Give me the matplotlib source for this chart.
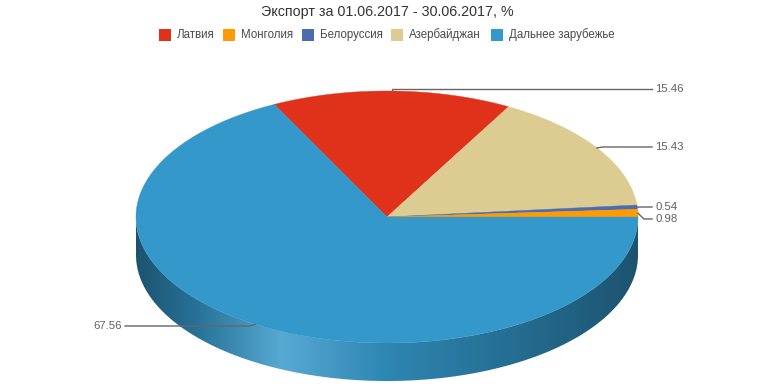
import numpy as np
import matplotlib
matplotlib.use('Agg')
import matplotlib.pyplot as plt
from matplotlib.patches import Polygon, Rectangle
from matplotlib.colors import LinearSegmentedColormap, to_rgb

plt.rcParams['font.family'] = ['Liberation Sans', 'DejaVu Sans']

title = 'Экспорт за 01.06.2017 - 30.06.2017, %'
legend_names = ['Латвия', 'Монголия', 'Белоруссия', 'Азербайджан', 'Дальнее зарубежье']
legend_colors = ['#e0321a', '#ff9a00', '#4b6db0', '#ddcc92', '#3498cb']
# slices in the order they sit on the pie, clockwise
slice_names = ['Латвия', 'Азербайджан', 'Белоруссия', 'Монголия', 'Дальнее зарубежье']
slice_values = [15.46, 15.43, 0.54, 0.98, 67.56]
label_y = [89, 147, 207, 219, 326]

W, H = 774, 387
cx, cy, rx, ry, depth = 387, 217, 251, 126, 38
start_angle = 116.7

fig = plt.figure(figsize=(W / 100, H / 100), dpi=100)
ax = fig.add_axes([0, 0, 1, 1])
ax.set_xlim(0, W)
ax.set_ylim(H, 0)
ax.axis('off')

colors = dict(zip(legend_names, legend_colors))


def pt(a):
    r = np.radians(a)
    return cx + rx * np.cos(r), cy - ry * np.sin(r)


def shade_cmap(c):
    # dark edges, light band on the left-front, like the 3d side lighting
    c = np.array(to_rgb(c))
    stops = [(0, 0.55), (0.12, 0.75), (0.29, 1.17), (0.5, 0.88), (0.78, 0.7), (1, 0.55)]
    out = []
    for t, f in stops:
        col = c * f if f <= 1 else c + (1 - c) * (f - 1)
        out.append((t, tuple(np.clip(col, 0, 1))))
    return LinearSegmentedColormap.from_list('side', out)


total = sum(slice_values)
a0 = start_angle
spans = []
for name, v in zip(slice_names, slice_values):
    a1 = a0 - 360 * v / total
    spans.append((name, a0, a1, v))
    a0 = a1

# side walls, front half only
grad = np.linspace(0, 1, 512).reshape(1, -1)
for name, a0, a1, v in spans:
    lo, hi = min(a0, a1), max(a0, a1)
    for base in (-360, 0):
        seg_lo = max(lo, base - 180)
        seg_hi = min(hi, base)
        if seg_lo >= seg_hi:
            continue
        aa = np.linspace(seg_lo, seg_hi, 200)
        xs, ys = pt(aa)
        verts = np.concatenate([np.c_[xs, ys], np.c_[xs[::-1], ys[::-1] + depth]])
        poly = Polygon(verts, closed=True, facecolor='none', edgecolor='none')
        ax.add_patch(poly)
        im = ax.imshow(grad, cmap=shade_cmap(colors[name]), aspect='auto',
                       extent=[cx - rx, cx + rx, cy + ry + depth, cy - ry],
                       interpolation='bilinear', zorder=1)
        im.set_clip_path(poly)

# top faces
for name, a0, a1, v in spans:
    aa = np.linspace(a0, a1, max(3, int(abs(a0 - a1) * 2)))
    xs, ys = pt(aa)
    verts = np.vstack([[cx, cy], np.c_[xs, ys]])
    ax.add_patch(Polygon(verts, closed=True, facecolor=colors[name],
                         edgecolor=colors[name], lw=0.3, zorder=2))

# data labels
for (name, a0, a1, v), ly in zip(spans, label_y):
    mid = (a0 + a1) / 2
    x0, y0 = pt(mid)
    bend = 0 if abs(y0 - ly) < 4 and abs(np.sin(np.radians(mid))) > 0.9 else 6
    if np.cos(np.radians(mid)) >= 0:
        tx, ha = 655, 'left'
        xs = [x0, x0 + bend, tx - 3]
    else:
        tx, ha = 122, 'right'
        xs = [x0, x0 - bend, tx + 3]
    ax.plot(xs, [y0, ly, ly], color='#666666', lw=1, zorder=3)
    ax.text(tx, ly, f'{v:.2f}', ha=ha, va='center', fontsize=8.2, color='#606060', zorder=3)

ax.text(387, 12, title, ha='center', va='center', fontsize=10.3, color='#333333')

# legend
leg_x = [159, 223, 302, 391, 491]
for name, c, lx in zip(legend_names, legend_colors, leg_x):
    ax.add_patch(Rectangle((lx, 29), 12, 12, facecolor=c, edgecolor='none'))
    ax.text(lx + 18, 35, name, ha='left', va='center', fontsize=8.3, color='#4a4a4a')

fig.savefig('out.png', dpi=100)
